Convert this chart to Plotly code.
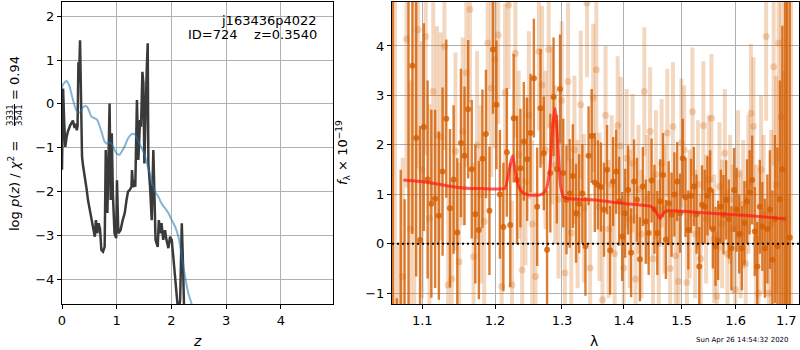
import plotly.graph_objects as go

# ---------------- left panel: p(z) ----------------
z_pz = [0.00, 0.02, 0.04, 0.06, 0.085, 0.11, 0.15, 0.20, 0.23, 0.25, 0.27, 0.285, 0.30, 0.31, 0.33,
        0.35, 0.366, 0.384, 0.414, 0.445, 0.476, 0.506, 0.537, 0.568, 0.60, 0.62, 0.645, 0.67, 0.695,
        0.72, 0.75, 0.78, 0.80, 0.83, 0.85, 0.87, 0.89, 0.91, 0.93, 0.96, 0.99, 1.005, 1.03, 1.07,
        1.11, 1.147, 1.18, 1.207, 1.24, 1.27, 1.28, 1.30, 1.32, 1.34, 1.37, 1.396, 1.427, 1.445,
        1.47, 1.488, 1.506, 1.53, 1.549, 1.567, 1.579, 1.61, 1.63, 1.64, 1.67, 1.69, 1.71, 1.75,
        1.77, 1.80, 1.82, 1.85, 1.884, 1.91, 1.945, 1.975, 2.006, 2.04, 2.067, 2.10, 2.128, 2.16,
        2.19, 2.21, 2.23, 2.26, 2.30]
logpz = [-1.50, 0.35, -0.40, -0.98, -0.75, -0.62, -0.49, -0.38, -0.55, -0.45, -0.60, -0.50, 0.95, 0.50, 1.45,
         -0.50, -1.20, -1.40, -1.60, -1.90, -2.20, -2.42, -2.65, -2.88, -3.03, -2.65, -2.95, -2.72, -2.85,
         -3.33, -3.37, -3.26, -1.05, -2.49, -1.43, 0.01, -2.19, -0.67, -2.04, -2.95, -3.06, -1.74, -2.95, -2.88,
         -2.65, -2.49, -2.19, -2.00, -1.96, -1.89, -1.51, -1.90, -1.74, -1.89, 0.09, -1.28, -0.37, -0.52,
         0.73, 0.47, -1.36, 0.09, 0.77, 1.38, -1.36, -1.89, -2.49, -2.65, -1.05, -1.89, -3.10, -3.26,
         -2.65, -2.95, -2.72, -3.10, -2.88, -3.10, -3.29, -3.03, -3.10, -3.56, -3.94, -4.47, -4.80, -4.47,
         -2.72, -3.56, -4.80, -6.00, -8.00]

z_chi = [0.00, 0.02, 0.05, 0.08, 0.13, 0.17, 0.21, 0.26, 0.30, 0.34, 0.38, 0.445, 0.49, 0.537, 0.60,
         0.645, 0.69, 0.74, 0.78, 0.83, 0.87, 0.91, 0.96, 1.005, 1.05, 1.09, 1.147, 1.207, 1.27, 1.305,
         1.335, 1.396, 1.457, 1.518, 1.579, 1.64, 1.70, 1.76, 1.82, 1.884, 1.945, 2.006, 2.067, 2.128,
         2.19, 2.25, 2.31, 2.37, 2.45]
chi_curve = [0.36, 0.45, 0.49, 0.52, 0.43, 0.24, 0.05, -0.14, -0.20, -0.18, -0.08, -0.05, -0.14, -0.29, -0.33,
             -0.37, -0.51, -0.71, -0.86, -0.91, -0.88, -0.91, -1.05, -1.14, -1.16, -1.09, -0.96, -0.79, -0.69, -0.68,
             -0.70, -0.86, -1.01, -1.20, -1.47, -1.74, -2.00, -2.11, -2.27, -2.38, -2.49, -2.65, -2.80, -3.03,
             -3.48, -3.94, -4.32, -4.57, -5.20]

# ---------------- right panel: spectrum ----------------
wave_a = [1.062, 1.067, 1.072, 1.077, 1.082, 1.087, 1.092, 1.097, 1.102, 1.107,
          1.112, 1.117, 1.122, 1.127, 1.132, 1.137, 1.142, 1.147, 1.152, 1.157,
          1.162, 1.167, 1.172, 1.177, 1.182, 1.187, 1.192, 1.197, 1.202, 1.207,
          1.212, 1.217, 1.222, 1.227, 1.232, 1.237, 1.242, 1.247, 1.252, 1.257,
          1.262, 1.267, 1.272, 1.277, 1.282, 1.287, 1.292, 1.297, 1.302, 1.307,
          1.312, 1.317, 1.322, 1.327, 1.332, 1.337, 1.342, 1.347, 1.352, 1.357,
          1.362, 1.367, 1.372, 1.377, 1.382, 1.387, 1.392, 1.397, 1.402, 1.407,
          1.412, 1.417, 1.422, 1.427, 1.432, 1.437, 1.442, 1.447, 1.452, 1.457,
          1.462, 1.467, 1.472, 1.477, 1.482, 1.487, 1.492, 1.497, 1.502, 1.507,
          1.512, 1.517, 1.522, 1.527, 1.532, 1.537, 1.542, 1.547, 1.552, 1.557,
          1.562, 1.567, 1.572, 1.577, 1.582, 1.587, 1.592, 1.597, 1.602, 1.607,
          1.612, 1.617, 1.622, 1.627, 1.632, 1.637, 1.642, 1.647, 1.652, 1.657,
          1.662, 1.667, 1.672, 1.677, 1.682, 1.687, 1.692, 1.697, 1.702, 1.707]
flux_a = [6.0, -3.0, -1.5, -1.6, 7.0, 3.6, 2.14, 0.08, 2.36, 1.30,
          0.81, 0.91, 0.57, 1.46, 2.53, 0.72, 1.30, 0.23, 2.04, 1.78,
          2.72, 1.51, 0.60, 0.28, 1.72, 2.22, 0.67, 3.93, 2.81, 1.00,
          0.34, 1.85, 0.38, 2.54, 1.29, 1.53, 2.07, 1.71, 2.24, 3.35,
          0.75, 2.74, 1.83, -0.12, 1.43, 2.97, 1.51, 3.13, 1.43, 0.89,
          1.02, 1.37, 0.62, 0.81, 1.02, -0.05, 1.78, 2.18, 1.24, 1.19,
          1.15, 0.69, 1.50, -0.13, 1.26, 1.46, 0.86, 0.15, 0.62, 1.09,
          -0.18, 1.26, 0.89, -0.31, 1.16, 0.45, 0.22, 1.28, 0.70, 0.22,
          0.86, 1.39, 0.09, 0.82, 0.59, 1.00, 1.26, 0.62, 1.73, 0.94,
          0.28, 0.97, 1.16, 0.60, -0.46, 0.79, 0.75, 0.97, 1.09, 0.30,
          -0.05, 0.07, 0.75, 0.59, 0.89, 0.50, -0.09, 1.09, 0.69, 0.20,
          -0.09, 0.42, 0.86, 1.04, 1.29, 0.25, -0.46, 0.75, 0.35, -0.09,
          0.30, 0.69, -0.32, 0.50, -0.05, 0.90, 1.51, -3.0, 8.0, 0.13]
err_a = [8.0, 1.9, 3.0, 2.5, 9.0, 3.4, 2.8, 2.3, 2.1, 2.0,
         1.9, 1.8, 1.7, 1.7, 1.6, 1.6, 1.5, 1.5, 1.5, 1.4,
         1.4, 1.4, 1.4, 1.4, 1.4, 1.3, 1.3, 1.3, 1.3, 1.3,
         1.3, 1.3, 1.25, 1.3, 1.3, 1.2, 1.2, 1.25, 1.2, 1.2,
         1.2, 1.2, 1.15, 1.2, 1.2, 1.2, 1.1, 1.1, 1.1, 1.1,
         1.1, 1.05, 1.0, 1.0, 1.0, 1.0, 1.0, 0.95, 1.0, 0.9,
         0.9, 0.95, 0.9, 0.9, 0.9, 0.85, 0.9, 0.9, 0.9, 0.9,
         0.9, 0.85, 0.85, 0.85, 0.8, 0.85, 0.85, 0.85, 0.9, 0.85,
         0.85, 0.85, 0.8, 0.85, 0.85, 0.85, 0.8, 0.8, 0.8, 0.8,
         0.8, 0.75, 0.8, 0.8, 0.8, 0.8, 0.75, 0.8, 0.8, 0.8,
         0.8, 0.8, 0.75, 0.8, 0.8, 0.8, 0.85, 0.85, 0.85, 0.8,
         0.85, 0.85, 0.85, 0.85, 0.9, 0.9, 0.9, 0.95, 0.9, 1.0,
         1.1, 1.2, 1.4, 1.7, 2.0, 2.4, 2.9, 9.0, 10.0, 6.0]

wave_b = [1.0645, 1.0695, 1.0745, 1.0795, 1.0845, 1.0895, 1.0945, 1.0995, 1.1045, 1.1095,
          1.1145, 1.1195, 1.1245, 1.1295, 1.1345, 1.1395, 1.1445, 1.1495, 1.1545, 1.1595,
          1.1645, 1.1695, 1.1745, 1.1795, 1.1845, 1.1895, 1.1945, 1.1995, 1.2045, 1.2095,
          1.2145, 1.2195, 1.2245, 1.2295, 1.2345, 1.2395, 1.2445, 1.2495, 1.2545, 1.2595,
          1.2645, 1.2695, 1.2745, 1.2795, 1.2845, 1.2895, 1.2945, 1.2995, 1.3045, 1.3095,
          1.3145, 1.3195, 1.3245, 1.3295, 1.3345, 1.3395, 1.3445, 1.3495, 1.3545, 1.3595,
          1.3645, 1.3695, 1.3745, 1.3795, 1.3845, 1.3895, 1.3945, 1.3995, 1.4045, 1.4095,
          1.4145, 1.4195, 1.4245, 1.4295, 1.4345, 1.4395, 1.4445, 1.4495, 1.4545, 1.4595,
          1.4645, 1.4695, 1.4745, 1.4795, 1.4845, 1.4895, 1.4945, 1.4995, 1.5045, 1.5095,
          1.5145, 1.5195, 1.5245, 1.5295, 1.5345, 1.5395, 1.5445, 1.5495, 1.5545, 1.5595,
          1.5645, 1.5695, 1.5745, 1.5795, 1.5845, 1.5895, 1.5945, 1.5995, 1.6045, 1.6095,
          1.6145, 1.6195, 1.6245, 1.6295, 1.6345, 1.6395, 1.6445, 1.6495, 1.6545, 1.6595,
          1.6645, 1.6695, 1.6745, 1.6795, 1.6845, 1.6895, 1.6945, 1.6995, 1.7045, 1.7095]
flux_b = [6.0, -2.0, -0.66, 4.14, 0.30, 7.0, 4.33, 1.50, 4.19, 0.52,
          3.08, 2.20, 2.17, 3.99, -0.83, -0.71, 1.87, -0.36, 2.27, 3.46,
          4.74, -0.26, 2.00, 1.00, 0.45, 4.06, 3.15, 3.73, 4.22, -0.86,
          3.06, 4.83, -0.83, 3.85, 1.80, -0.53, 1.26, 2.60, 0.40, -0.66,
          3.89, 3.21, 1.90, 3.93, 2.40, 1.60, 0.90, 2.90, -0.59, 3.28,
          0.22, 1.90, 0.60, 2.81, 0.72, 4.87, -0.49, 2.95, 3.52, 0.75,
          -1.13, 2.60, 0.30, 1.20, -0.20, 2.39, 1.98, -0.49, 1.73, 0.50,
          1.63, -0.71, 1.10, 0.20, 3.08, 0.90, 2.27, -0.30, 1.40, 0.00,
          1.63, 0.70, 2.24, -0.50, 2.37, -0.24, -0.76, 2.04, 1.90, -0.78,
          0.60, 2.67, 0.20, 1.20, -0.30, 2.39, 0.50, 1.30, 2.54, 0.10,
          -1.06, 1.16, 0.40, 1.83, -0.20, 0.90, 0.30, -0.93, 1.40, 0.20,
          0.80, -0.40, 1.20, 2.64, 2.37, 0.10, -1.00, 1.50, 0.60, 4.19,
          -1.00, 0.40, 3.58, 1.20, 4.06, 2.57, 0.50, 6.0, -2.0, 5.0]
err_b = [8.0, 2.0, 2.4, 3.0, 3.0, 9.0, 2.8, 2.6, 2.4, 2.3,
         2.2, 2.2, 2.1, 2.1, 2.0, 2.0, 2.0, 2.0, 1.9, 1.9,
         1.9, 1.9, 1.9, 1.8, 1.8, 1.8, 1.8, 1.8, 1.8, 1.8,
         1.8, 1.7, 1.7, 1.7, 1.7, 1.7, 1.7, 1.7, 1.7, 1.7,
         1.6, 1.6, 1.6, 1.6, 1.6, 1.6, 1.6, 1.6, 1.6, 1.6,
         1.5, 1.5, 1.5, 1.5, 1.5, 1.5, 1.5, 1.5, 1.5, 1.5,
         1.5, 1.4, 1.4, 1.4, 1.4, 1.4, 1.4, 1.4, 1.4, 1.4,
         1.4, 1.3, 1.3, 1.3, 1.3, 1.3, 1.3, 1.3, 1.3, 1.3,
         1.3, 1.3, 1.3, 1.3, 1.3, 1.3, 1.3, 1.3, 1.3, 1.3,
         1.3, 1.3, 1.3, 1.3, 1.3, 1.3, 1.3, 1.3, 1.3, 1.3,
         1.3, 1.3, 1.3, 1.3, 1.3, 1.3, 1.3, 1.3, 1.3, 1.3,
         1.3, 1.4, 1.4, 1.4, 1.4, 1.5, 1.5, 1.5, 1.6, 1.7,
         1.8, 1.9, 2.0, 2.2, 2.4, 2.6, 3.0, 8.0, 3.0, 7.0]

wave_model = [1.0753, 1.090, 1.103, 1.120, 1.135, 1.148, 1.165, 1.180, 1.195, 1.207, 1.2143, 1.2192,
              1.2227, 1.2256, 1.229, 1.2339, 1.2388, 1.2487, 1.2580, 1.2663, 1.2713, 1.2764, 1.2815,
              1.2856, 1.2892, 1.2918, 1.2943, 1.2980, 1.3021, 1.3126, 1.347, 1.403, 1.447, 1.456,
              1.462, 1.466, 1.472, 1.483, 1.525, 1.5965, 1.650, 1.699]
flux_model = [1.29, 1.27, 1.25, 1.21, 1.17, 1.14, 1.12, 1.12, 1.11, 1.11, 1.12, 1.40,
              1.65, 1.78, 1.50, 1.18, 1.05, 0.99, 0.98, 0.99, 1.02, 1.13, 1.56,
              2.37, 2.74, 2.37, 1.83, 1.16, 0.95, 0.91, 0.89, 0.81, 0.75, 0.62,
              0.51, 0.59, 0.66, 0.67, 0.64, 0.59, 0.55, 0.505]

z_ticks = [0, 1, 2, 3, 4]
lnp_ticks = [-4, -3, -2, -1, 0, 1, 2]
lam_ticks = [1.1, 1.2, 1.3, 1.4, 1.5, 1.6, 1.7]
lam_ticktext = ["1.1", "1.2", "1.3", "1.4", "1.5", "1.6", "1.7"]
flux_ticks = [-1, 0, 1, 2, 3, 4]

W, H = 800, 350
def fx(p):
    return p / W
def fy(p):
    return 1 - p / H

FONT = "DejaVu Sans"
ORANGE_D = "rgba(213,94,0,0.8)"
ORANGE_L = "rgba(213,94,0,0.25)"

fig = go.Figure()

# left panel traces
fig.add_trace(go.Scatter(x=z_pz, y=logpz, xaxis="x", yaxis="y", mode="lines",
                         line=dict(color="#3a3a3a", width=2.5), hoverinfo="skip", showlegend=False))
fig.add_trace(go.Scatter(x=z_chi, y=chi_curve, xaxis="x", yaxis="y", mode="lines",
                         line=dict(color="rgba(31,119,180,0.55)", width=2, shape="spline"),
                         hoverinfo="skip", showlegend=False))

# right panel traces
fig.add_trace(go.Scatter(x=wave_b, y=flux_b, xaxis="x2", yaxis="y2", mode="markers",
                         marker=dict(color=ORANGE_L, size=7, line=dict(width=0)),
                         error_y=dict(type="data", array=err_b, visible=True, color=ORANGE_L,
                                      thickness=4, width=0),
                         hoverinfo="skip", showlegend=False))
fig.add_trace(go.Scatter(x=wave_a, y=flux_a, xaxis="x2", yaxis="y2", mode="markers",
                         marker=dict(color=ORANGE_D, size=6, line=dict(width=0)),
                         error_y=dict(type="data", array=err_a, visible=True, color=ORANGE_D,
                                      thickness=2.4, width=0),
                         hoverinfo="skip", showlegend=False))
fig.add_trace(go.Scatter(x=wave_model, y=flux_model, xaxis="x2", yaxis="y2", mode="lines",
                         line=dict(color="rgba(255,25,20,0.72)", width=3, shape="spline", smoothing=0.5),
                         hoverinfo="skip", showlegend=False))

fig.add_shape(type="line", xref="x2 domain", yref="y2", x0=0, x1=1, y0=0, y1=0,
              line=dict(color="black", width=2, dash="2px,3px"), layer="above")

axis_common = dict(showgrid=True, gridcolor="#b0b0b0", gridwidth=1, zeroline=False,
                   showline=True, mirror=True, linecolor="black", linewidth=1,
                   ticks="outside", ticklen=4, tickwidth=1, tickcolor="black",
                   tickfont=dict(family=FONT, size=13, color="black"), automargin=False)

ydom = [fy(304.3), fy(1.7)]
fig.update_layout(
    width=W, height=H, margin=dict(l=0, r=0, t=0, b=0),
    paper_bgcolor="white", plot_bgcolor="white",
    font=dict(family=FONT, size=13, color="black"),
    xaxis=dict(domain=[fx(62), fx(333.3)], range=[0, 4.96], tickvals=z_ticks, anchor="y", **axis_common),
    yaxis=dict(domain=ydom, range=[-4.57, 2.33], tickvals=lnp_ticks, anchor="x", **axis_common),
    xaxis2=dict(domain=[fx(392), fx(799)], type="log", range=[0.025655, 0.237045],
                tickvals=lam_ticks, ticktext=lam_ticktext, anchor="y2", **axis_common),
    yaxis2=dict(domain=ydom, range=[-1.222, 4.895], tickvals=flux_ticks, anchor="x2", **axis_common),
)

# stacked fraction bar inside the left y label
fig.add_shape(type="line", xref="paper", yref="paper", x0=fx(14.5), x1=fx(14.5),
              y0=fy(104), y1=fy(126), line=dict(color="black", width=1))

ann = [
    dict(text="log <i>p</i>(<i>z</i>) / <i>χ</i><sup>2</sup> =", x=fx(14), y=fy(186), textangle=-90,
         font=dict(size=13)),
    dict(text="3331", x=fx(10), y=fy(115), textangle=-90, font=dict(size=8.5)),
    dict(text="3541", x=fx(19), y=fy(115), textangle=-90, font=dict(size=8.5)),
    dict(text="=\u00a00.94", x=fx(14), y=fy(78), textangle=-90, font=dict(size=13)),
    dict(text="<i>f</i><sub>λ</sub> × 10<sup>−19</sup>", x=fx(343), y=fy(153), textangle=-90,
         font=dict(size=13)),
    dict(text="<i>z</i>", x=fx(197), y=fy(341), font=dict(size=14)),
    dict(text="λ", x=fx(594), y=fy(341), font=dict(size=14)),
    dict(text="j163436p4022", x=fx(319), y=fy(20), xanchor="right", font=dict(size=13)),
    dict(text="ID=724\u00a0\u00a0\u00a0\u00a0z=0.3540", x=fx(319), y=fy(34), xanchor="right",
         font=dict(size=13)),
    dict(text="Sun Apr 26 14:54:32 2020", x=fx(742), y=fy(340), font=dict(size=7)),
]
for a in ann:
    a.setdefault("xanchor", "center")
    fig.add_annotation(xref="paper", yref="paper", showarrow=False, yanchor="middle", **a)

fig.write_html("out.html", include_plotlyjs=True, config={"displayModeBar": False},
               post_script="document.body.style.margin='0';")
